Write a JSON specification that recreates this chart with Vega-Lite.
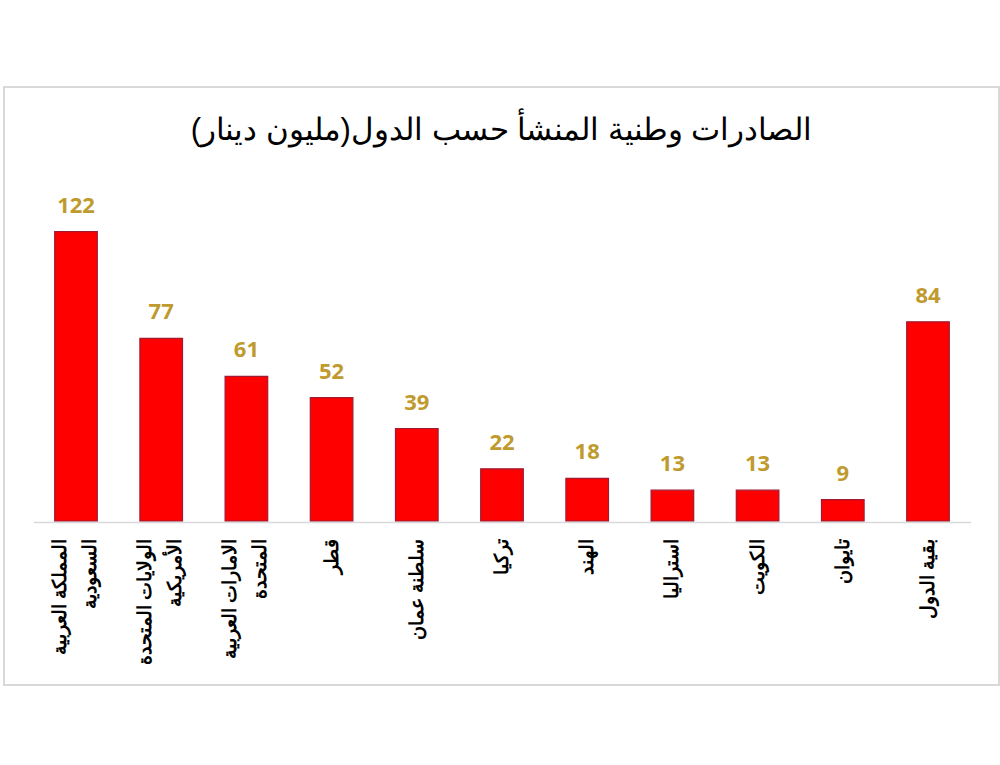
{
  "$schema": "https://vega.github.io/schema/vega-lite/v6.json",
  "width": 995,
  "height": 598,
  "autosize": {"type": "none"},
  "padding": {"left": 4, "top": 87, "right": 1, "bottom": 80},
  "background": "white",
  "config": {
    "view": {"stroke": "#d9d9d9", "strokeWidth": 2},
    "font": "Liberation Sans"
  },
  "title": {
    "text": "الصادرات وطنية المنشأ حسب الدول(مليون دينار)",
    "font": "Liberation Sans",
    "fontSize": 31,
    "fontWeight": "normal",
    "color": "#000000",
    "anchor": "middle",
    "frame": "group",
    "baseline": "alphabetic",
    "offset": -84
  },
  "data": {
    "values": [
      {"country": "المملكة العربية السعودية", "value": 122},
      {"country": "الولايات المتحدة الأمريكية", "value": 77},
      {"country": "الامارات العربية المتحدة", "value": 61},
      {"country": "قطر", "value": 52},
      {"country": "سلطنة عمان", "value": 39},
      {"country": "تركيا", "value": 22},
      {"country": "الهند", "value": 18},
      {"country": "استراليا", "value": 13},
      {"country": "الكويت", "value": 13},
      {"country": "تايوان", "value": 9},
      {"country": "بقية الدول", "value": 84}
    ]
  },
  "encoding": {
    "x": {
      "field": "country",
      "type": "nominal",
      "sort": null,
      "scale": {"range": [29.4, 966.6], "paddingInner": 0.5, "paddingOuter": 0.25},
      "axis": {
        "title": null,
        "offset": -163,
        "labelAngle": -90,
        "labelFontSize": 19,
        "labelFontWeight": "bold",
        "labelFont": "Liberation Sans",
        "labelColor": "#000000",
        "labelPadding": 16,
        "labelLineHeight": 30,
        "labelOffset": {"condition": {"test": "length(datum.value) > 15", "value": -16}, "value": 0},
        "labelExpr": "datum.label == 'المملكة العربية السعودية' ? ['المملكة العربية', '\u00a0\u00a0\u00a0\u00a0السعودية'] : datum.label == 'الولايات المتحدة الأمريكية' ? ['الولايات المتحدة', '\u00a0\u00a0\u00a0\u00a0\u00a0الأمريكية'] : datum.label == 'الامارات العربية المتحدة' ? ['الامارات العربية', '\u00a0\u00a0\u00a0\u00a0\u00a0\u00a0المتحدة'] : datum.label",
        "ticks": false,
        "domainColor": "#d9d9d9",
        "domainWidth": 1.5,
        "grid": false
      }
    },
    "y": {
      "field": "value",
      "type": "quantitative",
      "scale": {"domain": [0, 183], "range": [434, 0], "nice": false},
      "axis": null
    }
  },
  "layer": [
    {
      "mark": {"type": "bar", "color": "#ff0000", "stroke": "#9e1b32", "strokeWidth": 1.2}
    },
    {
      "mark": {
        "type": "text",
        "baseline": "alphabetic",
        "dy": -19,
        "font": "Open Sans",
        "fontWeight": "bold",
        "fontSize": 22,
        "color": "#bf9a2e"
      },
      "encoding": {"text": {"field": "value", "type": "quantitative"}}
    }
  ]
}
